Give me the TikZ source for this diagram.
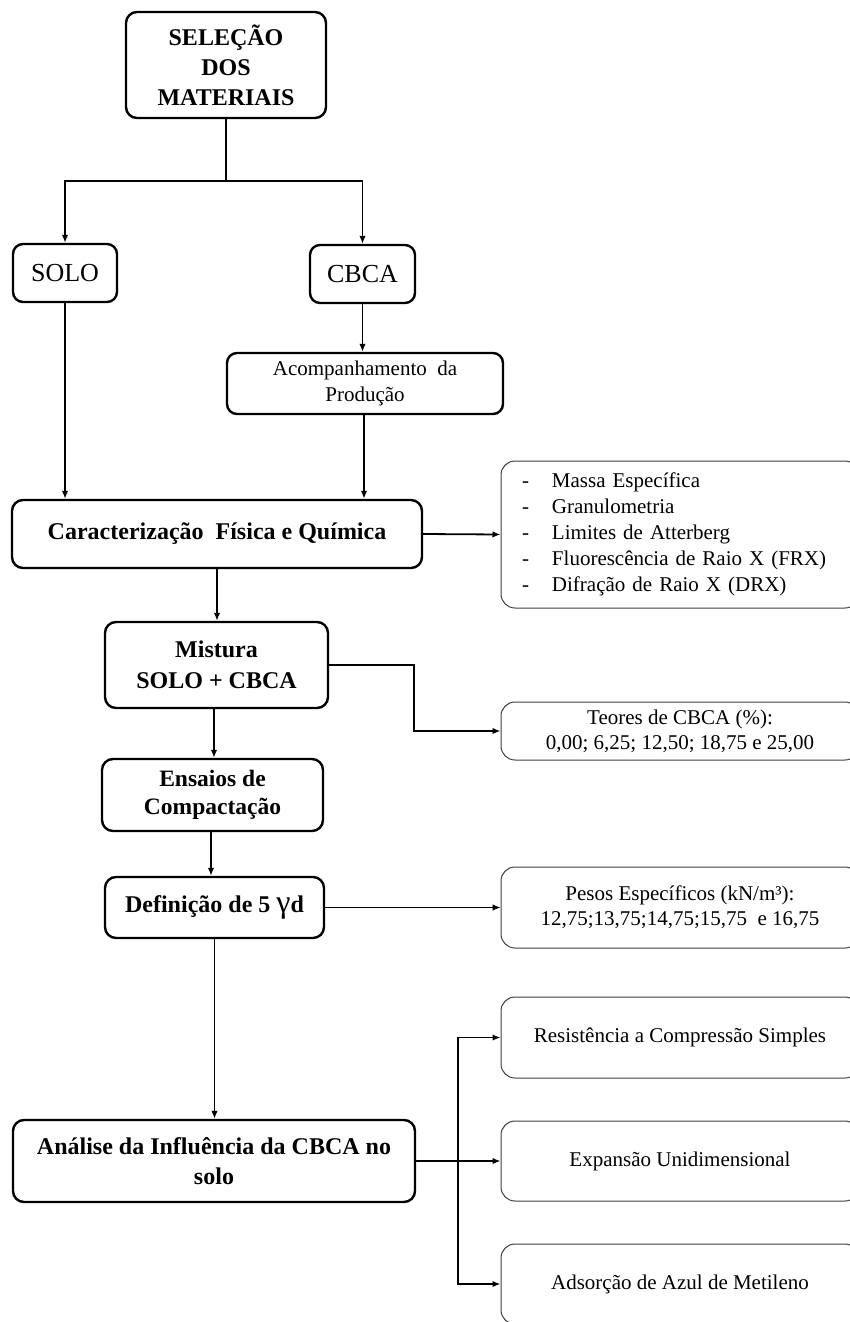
\documentclass[tikz,border=0pt]{standalone}
\usepackage{fontspec}
\setmainfont{Liberation Serif}
\usetikzlibrary{arrows.meta}
\begin{document}
\begin{tikzpicture}[x=1pt,y=-1pt,
  mainbox/.style={draw, line width=2.4pt, rounded corners=11pt, align=center, inner sep=0pt,
    font=\bfseries\fontsize{24}{30}\selectfont},
  plainbox/.style={draw, line width=2.4pt, rounded corners=10pt, align=center, inner sep=0pt,
    font=\fontsize{26}{30}\selectfont},
  sidebox/.style={draw=black!75, line width=1pt, rounded corners=14pt, minimum width=358pt,
    inner sep=0pt, align=center, font=\fontsize{21}{25}\selectfont},
  arr/.style={-{Latex[length=8pt,width=6.5pt]}, line width=1.8pt},
  thinarr/.style={-{Latex[length=8pt,width=6.5pt]}, line width=1pt},
  conn/.style={line width=1.8pt}
]
\useasboundingbox (0,0) rectangle (850,1322);
\clip (0,0) rectangle (850,1322);
\fill[white] (0,0) rectangle (850,1322);

% main column
\node[mainbox, minimum width=200pt, minimum height=106pt] (sel) at (226,65) {SELEÇÃO\\DOS\\MATERIAIS};
\node[plainbox, minimum width=104pt, minimum height=58pt] (solo) at (65,273) {SOLO};
\node[plainbox, minimum width=105pt, minimum height=58pt] (cbca) at (362.5,274) {CBCA};
\node[plainbox, minimum width=276pt, minimum height=61pt, font=\fontsize{21}{26}\selectfont] (acomp) at (365,383.5) {Acompanhamento~~da\\Produção};
\node[mainbox, minimum width=410pt, minimum height=68pt] (carac) at (217,534) {Caracterização~~Física e Química};
\node[mainbox, minimum width=223pt, minimum height=86pt, font=\bfseries\fontsize{24}{31}\selectfont] (mist) at (216.5,665) {Mistura\\SOLO + CBCA};
\node[mainbox, minimum width=221pt, minimum height=72pt, font=\bfseries\fontsize{23.5}{28}\selectfont] (ens) at (212.5,795) {Ensaios de\\Compactação};
\node[mainbox, minimum width=219pt, minimum height=61pt] (defi) at (214.5,907.5) {Definição de 5 {\mdseries\fontsize{32}{30}\selectfont γ}d};
\node[mainbox, minimum width=402pt, minimum height=82pt] (anal) at (214,1161) {Análise da Influência da CBCA no\\solo};

% side boxes
\node[sidebox, minimum height=147pt, text width=316pt, inner xsep=21pt, align=left,
  font=\fontsize{21}{26}\selectfont] (list) at (680,534.5)
  {\makebox[30pt][l]{-}Massa Específica\\
   \makebox[30pt][l]{-}Granulometria\\
   \makebox[30pt][l]{-}Limites~de Atterberg\\
   \makebox[30pt][l]{-}Fluorescência de Raio X (FRX)\\
   \makebox[30pt][l]{-}Difração de Raio X (DRX)};
\node[sidebox, minimum height=58pt] (teores) at (680,731) {Teores de CBCA (\%):\\0,00; 6,25; 12,50; 18,75 e 25,00};
\node[sidebox, minimum height=81pt] (pesos) at (680,907.5) {Pesos Específicos (kN/m³):\\12,75;13,75;14,75;15,75~~e 16,75};
\node[sidebox, minimum height=81pt] (resist) at (680,1037.5) {Resistência a Compressão Simples};
\node[sidebox, minimum height=80pt] (expan) at (680,1161) {Expansão Unidimensional};
\node[sidebox, minimum height=80pt] (adsor) at (680,1284) {Adsorção de Azul de Metileno};

% connectors
\coordinate (j1) at (226,181);
\draw[conn] (sel.south) -- (j1);
\draw[arr] (j1) -| (solo.north);
\draw[arr] (j1) -| (cbca.north);
\draw[arr] (solo.south) -- (solo.south |- carac.north);
\draw[arr] (cbca.south) -- (cbca.south |- acomp.north);
\coordinate (a1) at (364,414);
\draw[arr] (a1) -- (a1 |- carac.north);
\draw[arr] (carac.east) -- (list.west);
\draw[arr] (carac.south) -- (carac.south |- mist.north);
\coordinate (k1) at (414,665);
\draw[arr] (mist.east) -- (k1) |- (teores.west);
\coordinate (m1) at (214,708);
\draw[arr] (m1) -- (m1 |- ens.north);
\coordinate (e1) at (211,831);
\draw[arr] (e1) -- (e1 |- defi.north);
\draw[thinarr] (defi.east) -- (pesos.west);
\draw[arr] (defi.south) -- (defi.south |- anal.north);
\coordinate (t1) at (458,1161);
\draw[conn] (anal.east) -- (t1);
\draw[arr] (t1) -- (expan.west);
\draw[arr] (t1) |- (resist.west);
\draw[arr] (t1) |- (adsor.west);
\end{tikzpicture}
\end{document}
